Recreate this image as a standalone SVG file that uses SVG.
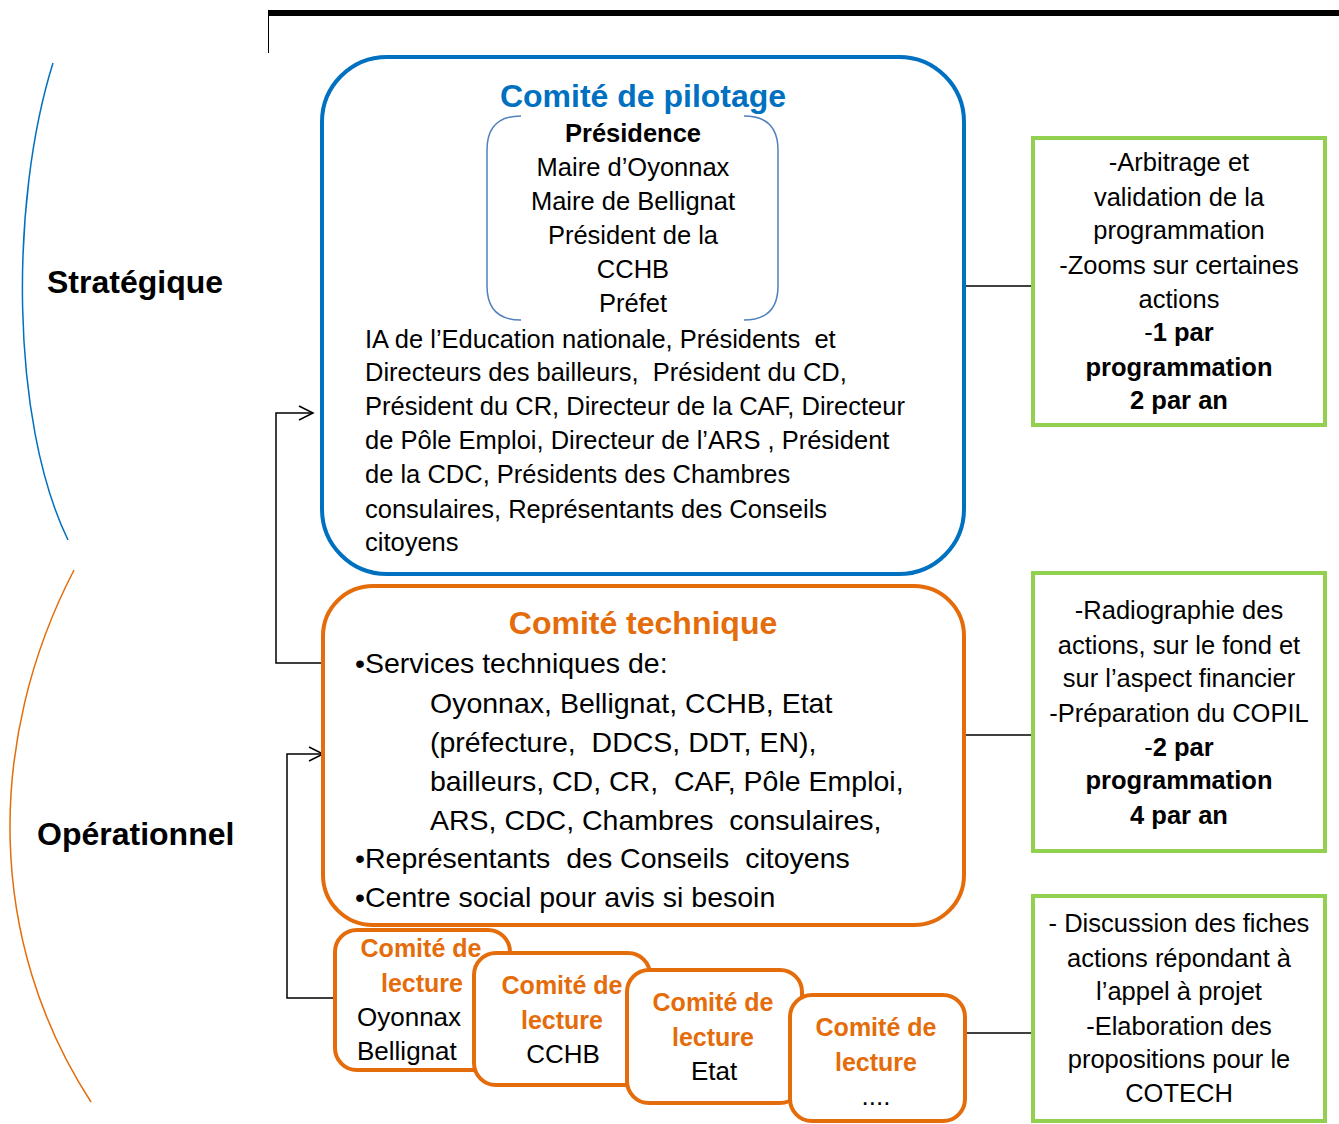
<svg xmlns="http://www.w3.org/2000/svg" width="1339" height="1124" viewBox="0 0 1339 1124">
<style>
text{font-family:"Liberation Sans",Arial,sans-serif;fill:#000}
.b{font-weight:bold}
.t25{font-size:25.5px}
.t28{font-size:28.5px}
.g{font-size:25.5px}
.lec{font-size:25px;font-weight:bold;fill:#E46C0A}
.lb{font-size:26px}
.c{text-anchor:middle}
.blue{fill:none;stroke:#0070C0;stroke-width:4}
.orange{fill:#fff;stroke:#E46C0A;stroke-width:4}
.green{fill:#fff;stroke:#92D050;stroke-width:4}
.conn{fill:none;stroke:#000;stroke-width:1.5}
</style>
<defs>
<marker id="arr" markerUnits="userSpaceOnUse" markerWidth="18" markerHeight="18" refX="15" refY="8" orient="auto">
<path d="M1,1 L15,8 L1,15" fill="none" stroke="#000" stroke-width="1.5"/>
</marker>
</defs>
<rect width="1339" height="1124" fill="#fff"/>
<g id="frame">
<rect x="268" y="10" width="1071" height="6" fill="#000"/>
<line x1="268.5" y1="16" x2="268.5" y2="53" stroke="#000" stroke-width="1"/>
</g>
<g id="strategique">
<path d="M53,63 C10,200 10,420 68,540" fill="none" stroke="#0070C0" stroke-width="1.5"/>
<text x="47" y="293" class="b" font-size="32">Stratégique</text>
</g>
<g id="operationnel">
<path d="M74,570 C-14,740 -14,940 91,1102" fill="none" stroke="#E46C0A" stroke-width="1.5"/>
<text x="37" y="845" class="b" font-size="32">Opérationnel</text>
</g>
<g id="connectors">
<line class="conn" x1="964" y1="286" x2="1033" y2="286"/>
<line class="conn" x1="964" y1="735" x2="1033" y2="735"/>
<line class="conn" x1="965" y1="1033" x2="1033" y2="1033"/>
<polyline class="conn" points="323,663 276,663 276,413 313,413" marker-end="url(#arr)"/>
<polyline class="conn" points="335,998 287,998 287,754 323,754" marker-end="url(#arr)"/>
</g>
<g id="copil">
<rect x="322" y="57" width="642" height="517" rx="65" ry="65" class="blue"/>
<text x="643" y="107" class="b c" font-size="32" style="fill:#0070C0">Comité de pilotage</text>
<path d="M521,116 Q487,116 487,150 L487,286 Q487,320 521,320" fill="none" stroke="#4F81BD" stroke-width="1.5"/>
<path d="M744,116 Q778,116 778,150 L778,286 Q778,320 744,320" fill="none" stroke="#4F81BD" stroke-width="1.5"/>
<g class="t25">
<text x="633" y="142" class="b c">Présidence</text>
<text x="633" y="176" class="c">Maire d’Oyonnax</text>
<text x="633" y="210" class="c">Maire de Bellignat</text>
<text x="633" y="244" class="c">Président de la</text>
<text x="633" y="278" class="c">CCHB</text>
<text x="633" y="312" class="c">Préfet</text>
<text x="365" y="348" xml:space="preserve">IA de l’Education nationale, Présidents  et</text>
<text x="365" y="381" xml:space="preserve">Directeurs des bailleurs,  Président du CD,</text>
<text x="365" y="415">Président du CR, Directeur de la CAF, Directeur</text>
<text x="365" y="449">de Pôle Emploi, Directeur de l’ARS , Président</text>
<text x="365" y="483">de la CDC, Présidents des Chambres</text>
<text x="365" y="518">consulaires, Représentants des Conseils</text>
<text x="365" y="551">citoyens</text>
</g>
</g>
<g id="cotech">
<rect x="323" y="586" width="641" height="339" rx="50" ry="50" class="orange"/>
<text x="643" y="634" class="b c" font-size="32" style="fill:#E46C0A">Comité technique</text>
<g class="t28">
<text x="355" y="673" xml:space="preserve">•Services techniques de:</text>
<text x="430" y="713" xml:space="preserve">Oyonnax, Bellignat, CCHB, Etat</text>
<text x="430" y="752" xml:space="preserve">(préfecture,  DDCS, DDT, EN),</text>
<text x="430" y="791" xml:space="preserve">bailleurs, CD, CR,  CAF, Pôle Emploi,</text>
<text x="430" y="830" xml:space="preserve">ARS, CDC, Chambres  consulaires,</text>
<text x="355" y="868" xml:space="preserve">•Représentants  des Conseils  citoyens</text>
<text x="355" y="907" xml:space="preserve">•Centre social pour avis si besoin</text>
</g>
</g>
<g id="lecture1">
<rect x="335" y="930" width="175" height="140" rx="22" ry="22" class="orange"/>
<text x="421" y="957" class="lec c">Comité de</text>
<text x="422" y="992" class="lec c">lecture</text>
<text x="357" y="1026" class="lb">Oyonnax</text>
<text x="357" y="1060" class="lb">Bellignat</text>
</g>
<g id="lecture2">
<rect x="474" y="953" width="176" height="132" rx="22" ry="22" class="orange"/>
<text x="562" y="994" class="lec c">Comité de</text>
<text x="562" y="1029" class="lec c">lecture</text>
<text x="563" y="1063" class="lb c">CCHB</text>
</g>
<g id="lecture3">
<rect x="627" y="970" width="175" height="133" rx="22" ry="22" class="orange"/>
<text x="713" y="1011" class="lec c">Comité de</text>
<text x="713" y="1046" class="lec c">lecture</text>
<text x="714" y="1080" class="lb c">Etat</text>
</g>
<g id="lecture4">
<rect x="790" y="995" width="175" height="126" rx="22" ry="22" class="orange"/>
<text x="876" y="1036" class="lec c">Comité de</text>
<text x="876" y="1071" class="lec c">lecture</text>
<text x="876" y="1105" class="lb c">....</text>
</g>
<g id="role-copil">
<rect x="1033" y="138" width="292" height="287" class="green"/>
<g class="g c">
<text x="1179" y="171">-Arbitrage et</text>
<text x="1179" y="206">validation de la</text>
<text x="1179" y="239">programmation</text>
<text x="1179" y="274">-Zooms sur certaines</text>
<text x="1179" y="308">actions</text>
<text x="1179" y="341">-<tspan class="b">1 par</tspan></text>
<text x="1179" y="376" class="b">programmation</text>
<text x="1179" y="409" class="b">2 par an</text>
</g>
</g>
<g id="role-cotech">
<rect x="1033" y="573" width="292" height="278" class="green"/>
<g class="g c">
<text x="1179" y="619">-Radiographie des</text>
<text x="1179" y="654">actions, sur le fond et</text>
<text x="1179" y="687">sur l’aspect financier</text>
<text x="1179" y="722">-Préparation du COPIL</text>
<text x="1179" y="756">-<tspan class="b">2 par</tspan></text>
<text x="1179" y="789" class="b">programmation</text>
<text x="1179" y="824" class="b">4 par an</text>
</g>
</g>
<g id="role-lecture">
<rect x="1033" y="896" width="292" height="225" class="green"/>
<g class="g c">
<text x="1179" y="932">- Discussion des fiches</text>
<text x="1179" y="967">actions répondant à</text>
<text x="1179" y="1000">l’appel à projet</text>
<text x="1179" y="1035">-Elaboration des</text>
<text x="1179" y="1068">propositions pour le</text>
<text x="1179" y="1102">COTECH</text>
</g>
</g>
</svg>
